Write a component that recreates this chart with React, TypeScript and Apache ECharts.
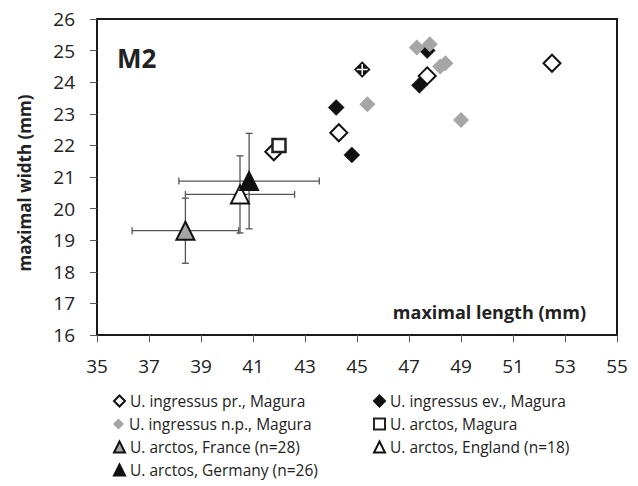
import React, { useEffect, useRef } from "react";
import * as echarts from "echarts";

// U. ingressus pr., Magura (open diamonds)
const prX = [41.8, 44.3, 47.7, 52.5];
const prY = [21.8, 22.4, 24.2, 24.6];
// U. ingressus ev., Magura (black diamonds)
const evX = [45.2, 44.2, 44.8, 47.7, 47.4];
const evY = [24.4, 23.2, 21.7, 25.0, 23.9];
// U. ingressus n.p., Magura (grey diamonds)
const npX = [45.4, 47.3, 47.8, 48.2, 48.4, 49.0];
const npY = [23.3, 25.1, 25.2, 24.5, 24.6, 22.8];
// U. arctos, Magura (open square)
const arctosMagX = [42.0];
const arctosMagY = [22.0];
// reference populations: mean length, mean width, sd length, sd width
const franceMean = [38.4, 19.3];
const franceSd = [2.05, 1.03];
const englandMean = [40.5, 20.45];
const englandSd = [2.1, 1.22];
const germanyMean = [40.85, 20.87];
const germanySd = [2.7, 1.51];
// overlay cross on the first ev. point
const crossX = [45.2];
const crossY = [24.4];

const xTicks = { min: 35, max: 55, interval: 2 };
const yTicks = { min: 16, max: 26, interval: 1 };

const FONT = '"Open Sans", "Liberation Sans", sans-serif';
const GREY = "#a6a6a6";

const names = {
  pr: "U. ingressus pr., Magura",
  ev: "U. ingressus ev., Magura",
  np: "U. ingressus n.p., Magura",
  am: "U. arctos, Magura",
  fr: "U. arctos, France (n=28)",
  en: "U. arctos, England (n=18)",
  de: "U. arctos, Germany (n=26)",
};

// legend layout: [name, icon, column, row]
const legendItems: [string, string, number, number][] = [
  [names.pr, "diamond", 0, 0],
  [names.ev, "diamond", 1, 0],
  [names.np, "diamond", 0, 1],
  [names.am, "rect", 1, 1],
  [names.fr, "triangle", 0, 2],
  [names.en, "triangle", 1, 2],
  [names.de, "triangle", 0, 3],
];

const zip = (xs: number[], ys: number[]) => xs.map((x, i) => [x, ys[i]]);

export default function App() {
  const ref = useRef<HTMLDivElement>(null);
  useEffect(() => {
    if (!ref.current) return;
    const chart = echarts.init(ref.current, null, { renderer: "svg" });
    const errData = [
      [...franceMean, ...franceSd],
      [...englandMean, ...englandSd],
      [...germanyMean, ...germanySd],
    ];
    const cap = 3.5;
    const errColor = "#555";
    const colLeft = [113, 373];
    const rowTop = 392;
    const rowStep = 23;
    const option: any = {
      animation: false,
      backgroundColor: "#fff",
      grid: {
        left: 97,
        top: 19,
        width: 520,
        height: 316,
        show: true,
        borderColor: "#1a1a1a",
        borderWidth: 2,
        backgroundColor: "transparent",
      },
      xAxis: {
        type: "value",
        min: xTicks.min,
        max: xTicks.max,
        interval: xTicks.interval,
        axisLine: { show: true, onZero: false, lineStyle: { color: "#1a1a1a", width: 2 } },
        axisTick: { show: true, length: 7, lineStyle: { color: "#555", width: 1 } },
        splitLine: { show: false },
        axisLabel: { margin: 21, fontSize: 19, color: "#222", fontFamily: FONT },
      },
      yAxis: {
        type: "value",
        min: yTicks.min,
        max: yTicks.max,
        interval: yTicks.interval,
        axisLine: { show: true, onZero: false, lineStyle: { color: "#1a1a1a", width: 2 } },
        axisTick: { show: true, length: 7, lineStyle: { color: "#555", width: 1 } },
        splitLine: { show: false },
        axisLabel: { margin: 22, fontSize: 19, color: "#222", fontFamily: FONT },
      },
      legend: legendItems.map(([name, icon, col, row]) => ({
        left: colLeft[col],
        top: rowTop + row * rowStep,
        padding: 0,
        orient: "horizontal",
        itemWidth: 11,
        itemHeight: 11,
        selectedMode: false,
        textStyle: { fontSize: 15.5, color: "#222", fontFamily: FONT, lineHeight: 18 },
        data: [{ name, icon }],
      })),
      graphic: [
        {
          type: "text",
          x: 24,
          y: 183,
          rotation: Math.PI / 2,
          style: {
            text: "maximal width (mm)",
            font: `bold 17px ${FONT}`,
            fill: "#222",
            textAlign: "center",
            textVerticalAlign: "middle",
          },
        },
        {
          type: "text",
          x: 117,
          y: 58,
          style: {
            text: "M2",
            font: `bold 26px ${FONT}`,
            fill: "#222",
            textAlign: "left",
            textVerticalAlign: "middle",
          },
        },
        {
          type: "text",
          x: 586,
          y: 312,
          style: {
            text: "maximal length (mm)",
            font: `bold 18px ${FONT}`,
            fill: "#222",
            textAlign: "right",
            textVerticalAlign: "middle",
          },
        },
      ],
      series: [
        {
          type: "custom",
          name: "_err",
          z: 1,
          silent: true,
          data: errData,
          renderItem: (params: any, api: any) => {
            const x = api.value(0);
            const y = api.value(1);
            const ex = api.value(2);
            const ey = api.value(3);
            const l = api.coord([x - ex, y]);
            const r = api.coord([x + ex, y]);
            const t = api.coord([x, y + ey]);
            const b = api.coord([x, y - ey]);
            const st = { stroke: errColor, lineWidth: 1.3 };
            const line = (x1: number, y1: number, x2: number, y2: number) => ({
              type: "line",
              shape: { x1, y1, x2, y2 },
              style: st,
            });
            return {
              type: "group",
              children: [
                line(l[0], l[1], r[0], r[1]),
                line(l[0], l[1] - cap, l[0], l[1] + cap),
                line(r[0], r[1] - cap, r[0], r[1] + cap),
                line(t[0], t[1], b[0], b[1]),
                line(t[0] - cap, t[1], t[0] + cap, t[1]),
                line(b[0] - cap, b[1], b[0] + cap, b[1]),
              ],
            };
          },
        },
        {
          type: "scatter",
          name: names.ev,
          z: 2,
          symbol: "diamond",
          symbolSize: 16,
          itemStyle: { color: "#111", borderColor: "#111", borderWidth: 0.5, opacity: 1 },
          data: zip(evX, evY),
        },
        {
          type: "scatter",
          name: "_cross",
          z: 3,
          symbol: "path://M5,0L5,10M0,5L10,5",
          symbolSize: 11,
          silent: true,
          itemStyle: { color: "transparent", borderColor: "#fff", borderWidth: 1.5, opacity: 1 },
          data: zip(crossX, crossY),
        },
        {
          type: "scatter",
          name: names.pr,
          z: 3,
          symbol: "diamond",
          symbolSize: 17,
          itemStyle: { color: "#fff", borderColor: "#111", borderWidth: 2, opacity: 1 },
          data: zip(prX, prY),
        },
        {
          type: "scatter",
          name: names.np,
          z: 4,
          symbol: "diamond",
          symbolSize: 16,
          itemStyle: { color: GREY, opacity: 1 },
          data: zip(npX, npY),
        },
        {
          type: "scatter",
          name: names.am,
          z: 4,
          symbol: "rect",
          symbolSize: 13,
          itemStyle: { color: "#fff", borderColor: "#222", borderWidth: 2.5, opacity: 1 },
          data: zip(arctosMagX, arctosMagY),
        },
        {
          type: "scatter",
          name: names.fr,
          z: 4,
          symbol: "triangle",
          symbolSize: 18,
          itemStyle: { color: GREY, borderColor: "#111", borderWidth: 2, opacity: 1 },
          data: [franceMean],
        },
        {
          type: "scatter",
          name: names.en,
          z: 4,
          symbol: "triangle",
          symbolSize: 18,
          itemStyle: { color: "#fff", borderColor: "#111", borderWidth: 2, opacity: 1 },
          data: [englandMean],
        },
        {
          type: "scatter",
          name: names.de,
          z: 5,
          symbol: "triangle",
          symbolSize: 18,
          itemStyle: { color: "#111", borderColor: "#111", borderWidth: 2, opacity: 1 },
          data: [germanyMean],
        },
      ],
    };
    chart.setOption(option);
    return () => chart.dispose();
  }, []);
  return (
    <div
      ref={ref}
      style={{ position: "fixed", left: 0, top: 0, width: 638, height: 486, background: "#fff" }}
    />
  );
}
